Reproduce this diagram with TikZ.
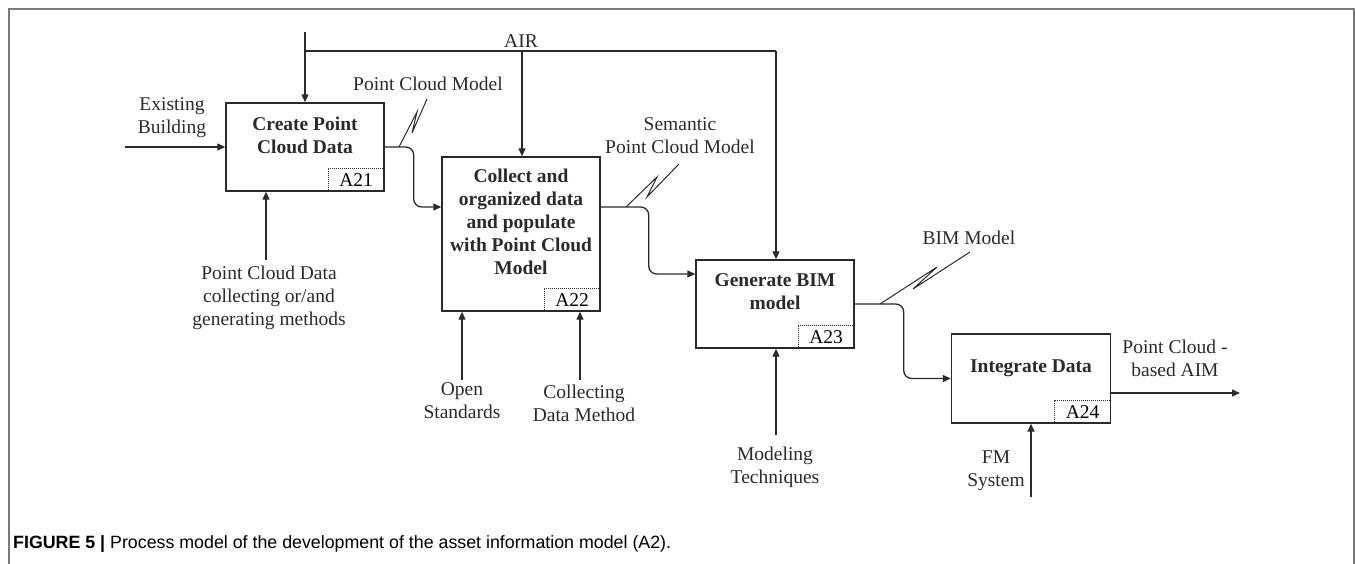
\documentclass[tikz,border=0pt]{standalone}
\usepackage{fontspec}
\setmainfont{Liberation Serif}
\newfontfamily\capfont{Liberation Sans}
\usetikzlibrary{arrows.meta,calc}
\definecolor{ln}{HTML}{2A2A2A}
\definecolor{frm}{HTML}{7A7A7A}
\begin{document}
\begin{tikzpicture}[x=1pt,y=-1pt,
  line/.style={draw=ln,line width=1.3pt},
  arr/.style={line,-{Triangle[length=8pt,width=7pt]}},
  procbox/.style={draw=ln,line width=1.4pt,rectangle,inner sep=0pt},
  idbox/.style={draw=ln,line width=1pt,densely dotted,rectangle,inner sep=0pt,
    minimum width=56pt,minimum height=23pt,anchor=south east,
    font=\fontsize{19.5}{23}\selectfont},
  lbl/.style={inner sep=0pt,align=center,text=ln,font=\fontsize{19.5}{23}\selectfont},
  blbl/.style={lbl,font=\fontsize{19.5}{23}\selectfont\bfseries},
  zig/.style={draw=ln,line width=1pt}]
\useasboundingbox (0,0) rectangle (1355,564);
% frame
\draw[frm,line width=2pt] (9,564) -- (9,9) -- (1354,9) -- (1354,564);

% process boxes
\node[procbox,minimum width=158pt,minimum height=88pt] (A21) at (305,147) {};
\node[procbox,minimum width=158pt,minimum height=154pt] (A22) at (521,234) {};
\node[procbox,minimum width=158pt,minimum height=88pt] (A23) at (775,304) {};
\node[procbox,minimum width=159pt,minimum height=89pt] (A24) at (1031,378.5) {};

\node[idbox] (id21) at (A21.south east) {A21};
\node[idbox] (id22) at (A22.south east) {A22};
\node[idbox] (id23) at (A23.south east) {A23};
\node[idbox] (id24) at (A24.south east) {A24};

% box texts
\node[blbl] (t21) at (305,135) {Create Point\\Cloud Data};
\node[blbl] (t22) at (521,222) {Collect and\\organized data\\and populate\\with Point Cloud\\Model};
\node[blbl] (t23) at (775,292) {Generate BIM\\model};
\node[blbl] (t24) at (1031,368) {Integrate Data};

% AIR control
\coordinate (airtop) at (305,32);
\coordinate (airj1) at (305,51);
\coordinate (airj2) at (522,51);
\coordinate (airj3) at (776,51);
\draw[arr] (airtop) -- (A21.north);
\draw[line] (airj1) -- (airj3);
\draw[arr] (airj2) -- (airj2 |- A22.north);
\draw[arr] (airj3) -- (airj3 |- A23.north);
\node[lbl] (air) at (521,41) {AIR};

% Existing building input
\coordinate (ebin) at (125,147);
\draw[arr] (ebin) -- (A21.west);
\node[lbl] (eb) at (172,118) {Existing\\Building};

% A21 -> A22
\draw[arr,rounded corners=8pt] (A21.east) -- ++(29,0) |- ([yshift=27pt]A22.west);
\node[lbl] (pcm) at (428,84) {Point Cloud Model};
\draw[zig] (399,147) -- (417,112) -- (412,133) -- (427,99);

% A22 -> A23
\draw[arr,rounded corners=8pt] ([yshift=27pt]A22.east) -- ++(48,0) |- ([yshift=30pt]A23.west);
\node[lbl] (spcm) at (680,136) {Semantic\\Point Cloud Model};
\draw[zig] (626,207) -- (657,177) -- (647,197) -- (679,164);

% A23 -> A24
\draw[arr,rounded corners=8pt] (A23.east) -- ++(49,0) |- (A24.west);
\node[lbl] (bim) at (969,238) {BIM Model};
\draw[zig] (880,304) -- (937,267) -- (913,289) -- (970,252);

% A24 output
\coordinate (out) at (1240,393);
\draw[arr] ([yshift=-14.5pt]A24.east) -- (out);
\node[lbl] (aim) at (1175,358) {Point Cloud -\\based AIM};

% mechanisms
\coordinate (m21) at (266,260);
\draw[arr] (m21) -- (m21 |- A21.south);
\node[lbl] (pcd) at (269,298) {Point Cloud Data\\collecting or/and\\generating methods};

\coordinate (m22a) at (462,380);
\draw[arr] (m22a) -- (m22a |- A22.south);
\node[lbl] (os) at (462,401) {Open\\Standards};

\coordinate (m22b) at (580,380);
\draw[arr] (m22b) -- (m22b |- A22.south);
\node[lbl] (cdm) at (584,403) {Collecting\\Data Method};

\coordinate (m23) at (776,435);
\draw[arr] (m23) -- (m23 |- A23.south);
\node[lbl] (mt) at (775,467) {Modeling\\Techniques};

\coordinate (m24) at (1031,497);
\draw[arr] (m24) -- (m24 |- A24.south);
\node[lbl] (fm) at (996,471) {FM\\System};

% caption
\node[anchor=west,inner sep=0pt,font=\capfont\fontsize{17.8}{20}\selectfont] (cap) at (13,544)
  {\textbf{FIGURE 5 |} Process model of the development of the asset information model (A2).};
\end{tikzpicture}
\end{document}
